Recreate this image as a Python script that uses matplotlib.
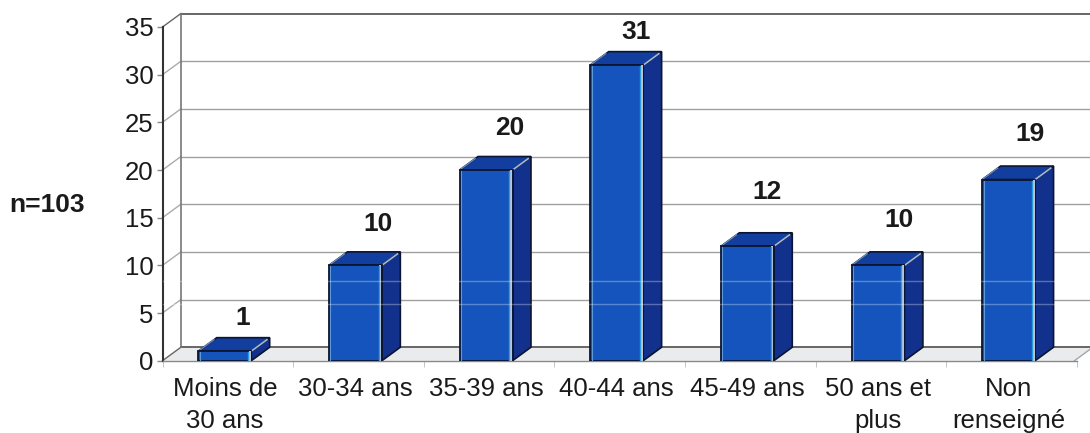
import numpy as np
import matplotlib
matplotlib.use('Agg')
import matplotlib.pyplot as plt

plt.rcParams['font.family'] = ['Liberation Sans', 'DejaVu Sans']

# Data
categories = ['Moins de\n30 ans', '30-34 ans', '35-39 ans', '40-44 ans', '45-49 ans', '50 ans et\nplus', 'Non\nrenseigné']
values = [1, 10, 20, 31, 12, 10, 19]
y_ticks = [0, 5, 10, 15, 20, 25, 30, 35]

# offset of the value labels from the top of each bar, in points
label_dx = [13, 16, 17, 14, 14, 15, 15]
label_dy = [24, 30, 30, 24, 39, 33, 33]

# pale scan lines that run across the bars
scan_lines = [5.95, 8.35]

# 3d look
depth_x = 0.141
depth_y = 1.415
bar_w = 0.405
x_min, x_max = -0.477, 6.504

fig = plt.figure(figsize=(10.9, 4.33), dpi=100)
ax = fig.add_axes([162.5 / 1090, 1 - 360.7 / 433, (1077 - 162.5) / 1090, (360.7 - 27) / 433])
ax.set_xlim(x_min, x_max)
ax.set_ylim(0, 35)

# Floor
ax.fill([x_min, x_max, x_max + depth_x, x_min + depth_x], [0, 0, depth_y, depth_y],
        color='#e9ebed', lw=0, clip_on=False, zorder=1)
ax.plot([x_max, x_max + depth_x], [0, depth_y], color='#a5a5a5', lw=1, clip_on=False, zorder=1)

# Back wall and side wall lines
for v in y_ticks:
    is_edge = v in (0, 35)
    ax.plot([x_min + depth_x, x_max + depth_x + 0.1], [v + depth_y, v + depth_y],
            color='#666666' if is_edge else '#a0a0a0', lw=1.4 if is_edge else 1,
            clip_on=False, zorder=1.5)
    ax.plot([x_min, x_min + depth_x], [v, v + depth_y],
            color='#666666' if is_edge else '#ababab', lw=1, clip_on=False, zorder=1.5)
ax.plot([x_min + depth_x, x_min + depth_x], [depth_y, 35 + depth_y], color='#777777', lw=1.2,
        clip_on=False, zorder=1.5)

# Bars
xs = np.arange(len(values))
for x, v in zip(xs, values):
    l, r = x - bar_w / 2, x + bar_w / 2
    # side face
    ax.fill([r, r + depth_x, r + depth_x, r], [0, depth_y, v + depth_y, v],
            facecolor='#12318c', edgecolor='#0b1430', lw=1.2, zorder=3)
    # top face
    ax.fill([l, r, r + depth_x, l + depth_x], [v, v, v + depth_y, v + depth_y],
            facecolor='#123f9f', edgecolor='#0b1430', lw=1.2, zorder=3)
    # light stripes along the front edges
    ax.plot([r, r + depth_x * 0.85], [v, v + depth_y * 0.85], color='#a9b8cf', lw=1.2, zorder=3.2)
    ax.plot([l, l + depth_x * 0.85], [v, v + depth_y * 0.85], color='#6f8fc4', lw=0.9, zorder=3.2)
ax.bar(xs, values, width=bar_w, color='#1554bd', edgecolor='#0b1430', lw=1.3, zorder=4)
for x, v in zip(xs, values):
    r = x + bar_w / 2
    ax.plot([r - 0.012, r - 0.012], [0.1, v - 0.1], color='#c3cad6', lw=1.4, zorder=5)
    ax.plot([r - 0.024, r - 0.024], [0.1, v - 0.1], color='#2a9be0', lw=1, zorder=5)
    ax.plot([x - bar_w / 2 + 0.01, x - bar_w / 2 + 0.01], [0.1, v - 0.1], color='#5f9ad8', lw=0.8, zorder=5)

for v in scan_lines:
    ax.axhline(v, color='white', alpha=0.3, lw=1, zorder=5.5)

# Value labels
for x, v, dx, dy in zip(xs, values, label_dx, label_dy):
    ax.annotate(str(v), (x, v), xytext=(dx, dy), textcoords='offset points', ha='center', va='center',
                fontsize=19, fontweight='bold', color='#1a1a1a', zorder=6, annotation_clip=False)

# Axes
for side in ['top', 'right']:
    ax.spines[side].set_visible(False)
ax.spines['left'].set_color('#333333')
ax.spines['left'].set_linewidth(1.5)
ax.spines['bottom'].set_color('#888888')
ax.spines['bottom'].set_linewidth(1)
ax.spines['left'].set_zorder(2)
ax.spines['bottom'].set_zorder(2)
ax.patch.set_visible(False)

ax.set_yticks(y_ticks)
ax.set_yticklabels([str(v) for v in y_ticks], fontsize=18.5, color='#1a1a1a')
ax.tick_params(axis='y', length=4.5, width=1, color='#888888', pad=2)
ax.set_xticks(xs)
ax.set_xticklabels(categories, fontsize=18.5, color='#1a1a1a', linespacing=1.42)
ax.tick_params(axis='x', which='major', length=0, pad=12)
ax.set_xticks(x_min + np.arange(len(values) + 1), minor=True)
ax.tick_params(axis='x', which='minor', length=4, width=0.7, color='#c4c4c4')

fig.text(47 / 1090, 1 - 205 / 433, 'n=103', fontsize=19, fontweight='bold', color='#1a1a1a',
         ha='center', va='center')

plt.savefig('out.png', dpi=100)
